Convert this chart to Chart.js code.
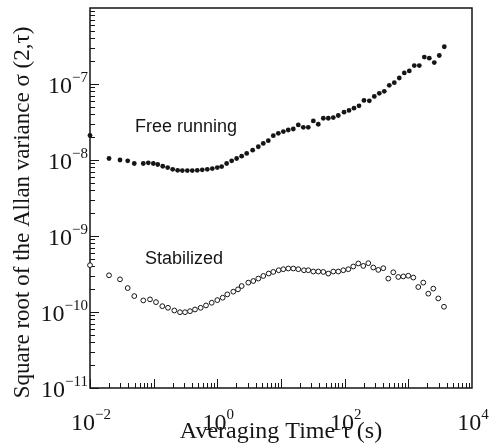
<!DOCTYPE html>
<html>
<head>
<meta charset="utf-8">
<script src="https://cdn.jsdelivr.net/npm/chart.js@4/dist/chart.umd.min.js"></script>
<style>
  html, body { margin: 0; padding: 0; background: #fff; }
  #wrap { width: 491px; height: 445px; position: relative; }
</style>
</head>
<body>
<div id="wrap"><canvas id="allan"></canvas></div>
<script>
// averaging time tau (s) and sqrt Allan variance
const freeTau = [0.01, 0.0199, 0.0296, 0.0391, 0.0496, 0.0687, 0.0823, 0.0987, 0.116, 0.139, 0.166, 0.199, 0.238, 0.282, 0.338, 0.404, 0.484, 0.580, 0.696, 0.834, 0.999, 1.17, 1.40, 1.68, 2.01, 2.41, 2.89, 3.59, 4.40, 5.27, 6.32, 7.57, 9.07, 10.9, 13.0, 15.6, 18.7, 22.4, 26.8, 32.2, 38.5, 46.2, 55.3, 66.3, 79.4, 97.6, 117, 140, 168, 201, 244, 292, 350, 419, 502, 602, 721, 864, 1035, 1240, 1486, 1781, 2134, 2556, 3063, 3670];
const freeSigma = [2.1e-8, 1.047e-8, 1.0e-8, 9.76e-9, 8.99e-9, 8.99e-9, 9.18e-9, 8.99e-9, 8.72e-9, 8.28e-9, 7.96e-9, 7.55e-9, 7.32e-9, 7.26e-9, 7.26e-9, 7.26e-9, 7.32e-9, 7.42e-9, 7.55e-9, 7.72e-9, 7.96e-9, 8.20e-9, 8.99e-9, 9.76e-9, 1.047e-8, 1.123e-8, 1.219e-8, 1.348e-8, 1.495e-8, 1.654e-8, 1.796e-8, 2.092e-8, 2.244e-8, 2.363e-8, 2.481e-8, 2.558e-8, 2.89e-8, 2.694e-8, 2.694e-8, 3.265e-8, 2.953e-8, 3.545e-8, 3.545e-8, 3.62e-8, 3.85e-8, 4.257e-8, 4.484e-8, 4.81e-8, 5.16e-8, 6.08e-8, 6.01e-8, 6.87e-8, 7.53e-8, 8.0e-8, 9.61e-8, 1.04e-7, 1.20e-7, 1.40e-7, 1.487e-7, 1.748e-7, 1.748e-7, 2.258e-7, 2.19e-7, 1.914e-7, 2.37e-7, 3.09e-7];

const stabTau = [0.01, 0.0199, 0.0296, 0.0391, 0.0496, 0.0687, 0.0876, 0.1088, 0.1366, 0.168, 0.2109, 0.2592, 0.3106, 0.3721, 0.4457, 0.5477, 0.6636, 0.8155, 0.9986, 1.214, 1.434, 1.781, 2.111, 2.413, 3.064, 3.671, 4.399, 5.270, 6.408, 7.566, 9.199, 10.86, 13.02, 15.60, 18.69, 22.97, 26.83, 32.15, 38.53, 46.16, 55.32, 66.28, 79.40, 95.1, 114.0, 136.6, 163.7, 196.1, 235.0, 281.5, 337.3, 404.2, 484.2, 580.2, 695.4, 833.2, 998, 1196, 1433, 1717, 2058, 2466, 2954, 3630];
const stabSigma = [4.13e-10, 3.04e-10, 2.69e-10, 2.066e-10, 1.62e-10, 1.42e-10, 1.465e-10, 1.348e-10, 1.193e-10, 1.136e-10, 1.047e-10, 9.94e-11, 9.94e-11, 1.025e-10, 1.079e-10, 1.136e-10, 1.219e-10, 1.324e-10, 1.433e-10, 1.542e-10, 1.705e-10, 1.851e-10, 1.986e-10, 2.196e-10, 2.436e-10, 2.558e-10, 2.752e-10, 2.98e-10, 3.206e-10, 3.367e-10, 3.545e-10, 3.655e-10, 3.735e-10, 3.735e-10, 3.655e-10, 3.545e-10, 3.545e-10, 3.408e-10, 3.408e-10, 3.367e-10, 3.206e-10, 3.408e-10, 3.408e-10, 3.545e-10, 3.655e-10, 3.97e-10, 4.35e-10, 4.04e-10, 4.39e-10, 3.85e-10, 3.58e-10, 3.77e-10, 2.752e-10, 3.33e-10, 2.89e-10, 2.94e-10, 3.0e-10, 2.84e-10, 2.13e-10, 2.436e-10, 1.743e-10, 2.03e-10, 1.509e-10, 1.172e-10];

// tick labels: decades shown as 10^n
const xTickExps = [-2, 0, 2, 4];
const yTickExps = [-11, -10, -9, -8, -7];

// curve annotations
const seriesNames = ['Free running', 'Stabilized'];
const nameAnchors = [{ x: 0.051, y: 2.31e-8 }, { x: 0.073, y: 4.26e-10 }];

const SERIF = '"Liberation Serif", "Times New Roman", serif';
const SANS = '"Liberation Sans", Arial, sans-serif';
const INK = '#151515';

function pow10Label(ctx, exp, x, y, mode) {
  const base = '10';
  const sup = exp < 0 ? '\u2212' + Math.abs(exp) : String(exp);
  ctx.font = '24px ' + SERIF;
  const wb = ctx.measureText(base).width;
  ctx.font = '15px ' + SERIF;
  const we = ctx.measureText(sup).width;
  let left;
  if (mode === 'right') left = x - wb - we;
  else left = x - (wb + we) / 2 + 1;
  ctx.textAlign = 'left';
  ctx.textBaseline = 'alphabetic';
  ctx.font = '24px ' + SERIF;
  ctx.fillText(base, left, y);
  ctx.font = '15px ' + SERIF;
  ctx.fillText(sup, left + wb, y - 11);
}

const framePlugin = {
  id: 'frameTicks',
  beforeDatasetsDraw(chart) {
    const { ctx, chartArea: a, scales: { x, y } } = chart;
    ctx.save();
    ctx.strokeStyle = INK;
    ctx.lineWidth = 1.5;
    ctx.strokeRect(a.left, a.top, a.right - a.left, a.bottom - a.top);
    ctx.lineWidth = 1;
    ctx.beginPath();
    // inward ticks on left axis
    for (let e = -11; e < -6; e++) {
      for (let m = 1; m <= 9; m++) {
        const py = Math.round(y.getPixelForValue(m * Math.pow(10, e))) + 0.5;
        const len = m === 1 ? 9 : 5;
        ctx.moveTo(a.left, py); ctx.lineTo(a.left + len, py);
      }
    }
    // inward ticks on bottom axis
    for (let e = -2; e < 4; e++) {
      for (let m = 1; m <= 9; m++) {
        const px = Math.round(x.getPixelForValue(m * Math.pow(10, e))) + 0.5;
        const len = m === 1 ? 9 : 5;
        ctx.moveTo(px, a.bottom); ctx.lineTo(px, a.bottom - len);
      }
    }
    ctx.stroke();
    ctx.restore();
  },
  afterDraw(chart) {
    const { ctx, scales: { x, y } } = chart;
    ctx.save();
    ctx.fillStyle = INK;
    yTickExps.forEach(e => pow10Label(ctx, e, 88, y.getPixelForValue(Math.pow(10, e)) + 9, 'right'));
    xTickExps.forEach(e => pow10Label(ctx, e, x.getPixelForValue(Math.pow(10, e)), 430, 'center'));
    ctx.font = '18px ' + SANS;
    ctx.textAlign = 'left';
    ctx.textBaseline = 'alphabetic';
    seriesNames.forEach((n, i) => {
      ctx.fillText(n, x.getPixelForValue(nameAnchors[i].x), y.getPixelForValue(nameAnchors[i].y));
    });
    ctx.restore();
  }
};

new Chart(document.getElementById('allan'), {
  type: 'scatter',
  data: {
    datasets: [
      {
        label: seriesNames[0],
        data: freeTau.map((t, i) => ({ x: t, y: freeSigma[i] })),
        pointRadius: 2.4, pointBackgroundColor: INK, pointBorderColor: INK, pointBorderWidth: 0,
        clip: false
      },
      {
        label: seriesNames[1],
        data: stabTau.map((t, i) => ({ x: t, y: stabSigma[i] })),
        pointRadius: 2.4, pointBackgroundColor: '#fff', pointBorderColor: INK, pointBorderWidth: 1,
        clip: false
      }
    ]
  },
  options: {
    responsive: true, maintainAspectRatio: false, animation: false,
    layout: { padding: { top: 8, right: 19, left: 0, bottom: 0 } },
    plugins: { legend: { display: false }, tooltip: { enabled: false } },
    scales: {
      x: {
        type: 'logarithmic', min: 1e-2, max: 1e4,
        grid: { display: false }, border: { display: false },
        ticks: { display: false },
        title: { display: true, text: 'Averaging Time \u03C4 (s)', color: INK,
          font: { family: SERIF, size: 24, lineHeight: 1 }, padding: { top: 0, bottom: 1 } },
        afterFit: s => { s.height = 57; }
      },
      y: {
        type: 'logarithmic', min: 1e-11, max: 1e-6,
        grid: { display: false }, border: { display: false },
        ticks: { display: false },
        title: { display: true, text: 'Square root of the Allan variance \u03C3 (2,\u03C4)\u00A0\u00A0\u00A0\u00A0\u00A0', color: INK,
          font: { family: SERIF, size: 23, lineHeight: 1 }, padding: { top: 11, bottom: 0 } },
        afterFit: s => { s.width = 90; }
      }
    }
  },
  plugins: [framePlugin]
});
</script>
</body>
</html>
